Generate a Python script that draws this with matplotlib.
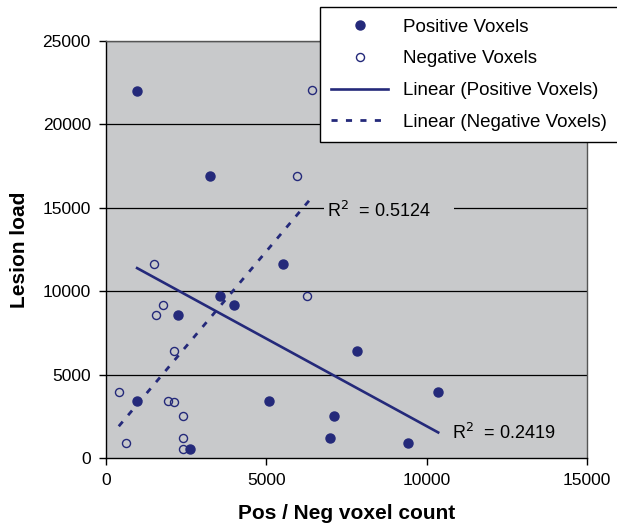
import matplotlib
matplotlib.use("Agg")
import matplotlib.pyplot as plt
import numpy as np

plt.rcParams["font.family"] = ["Liberation Sans", "DejaVu Sans"]

# values
pos_x = np.array([967, 3243, 5509, 3544, 3991, 2256, 7816, 967, 5072, 7120, 6975, 2619, 10363, 9427])
pos_y = np.array([22000, 16900, 11600, 9700, 9200, 8600, 6400, 3400, 3450, 2500, 1200, 550, 3950, 900])
neg_x = np.array([6423, 5956, 1497, 6268, 1767, 1549, 2131, 395, 1944, 2131, 2401, 613, 2401, 2401])
neg_y = np.array([22050, 16900, 11600, 9700, 9200, 8600, 6400, 3950, 3450, 3350, 2500, 900, 1200, 550])
r2_pos = "0.2419"
r2_neg = "0.5124"

navy = "#24297a"
bg = "#c8c9cb"

fig = plt.figure(figsize=(6.17, 5.23), dpi=100)
ax = fig.add_axes([0.172, 0.124, 0.779, 0.798])
ax.set_facecolor(bg)

for y in range(5000, 25001, 5000):
    ax.axhline(y, color="black", lw=0.9, zorder=1)

# linear fits, drawn between min and max x like the spreadsheet trendline
pc = np.polyfit(pos_x, pos_y, 1)
nc = np.polyfit(neg_x, neg_y, 1)
px = np.array([pos_x.min(), pos_x.max()])
nx = np.array([neg_x.min(), neg_x.max()])

ax.plot(pos_x, pos_y, "o", color=navy, ms=6.5, ls="none", zorder=4, label="Positive Voxels")
ax.plot(neg_x, neg_y, "o", mfc="none", mec=navy, mew=1.0, ms=5.8, ls="none", zorder=4,
        label="Negative Voxels")
ax.plot(px, np.polyval(pc, px), color=navy, lw=1.9, zorder=3, label="Linear (Positive Voxels)")
ax.plot(nx, np.polyval(nc, nx), color=navy, lw=2.0, ls=(0, (2.2, 3.0)), zorder=3,
        label="Linear (Negative Voxels)")

ax.text(6890, 14820, "R$^2$  = " + r2_neg + "     ", fontsize=13, va="center", ha="left", zorder=2,
        bbox=dict(facecolor=bg, edgecolor="none", pad=2))
ax.text(10800, 1517, "R$^2$  = " + r2_pos, fontsize=13, va="center", ha="left", zorder=2,
        bbox=dict(facecolor=bg, edgecolor="none", pad=2))

ax.set_xlim(0, 15000)
ax.set_ylim(0, 25000)
ax.set_xticks(range(0, 15001, 5000))
ax.set_yticks(range(0, 25001, 5000))
ax.tick_params(direction="out", length=5, width=1, labelsize=12.5, pad=6)
for s in ["left", "bottom"]:
    ax.spines[s].set_color("black")
    ax.spines[s].set_linewidth(1.0)
for s in ["right", "top"]:
    ax.spines[s].set_color("#555555")
    ax.spines[s].set_linewidth(1.0)

ax.set_xlabel("Pos / Neg voxel count", fontsize=15, fontweight="bold", labelpad=11)
ax.set_ylabel("Lesion load", fontsize=15, fontweight="bold", labelpad=10)

leg = fig.legend(loc="upper left", bbox_to_anchor=(0.519, 0.986, 0.5, 0), mode="expand",
                 fontsize=13.5, frameon=True, fancybox=False, framealpha=1, edgecolor="black",
                 handlelength=3.0, handletextpad=0.8, labelspacing=0.78,
                 borderpad=0.6, borderaxespad=0)
leg.get_frame().set_linewidth(1.0)

fig.savefig("out.png", dpi=100)
